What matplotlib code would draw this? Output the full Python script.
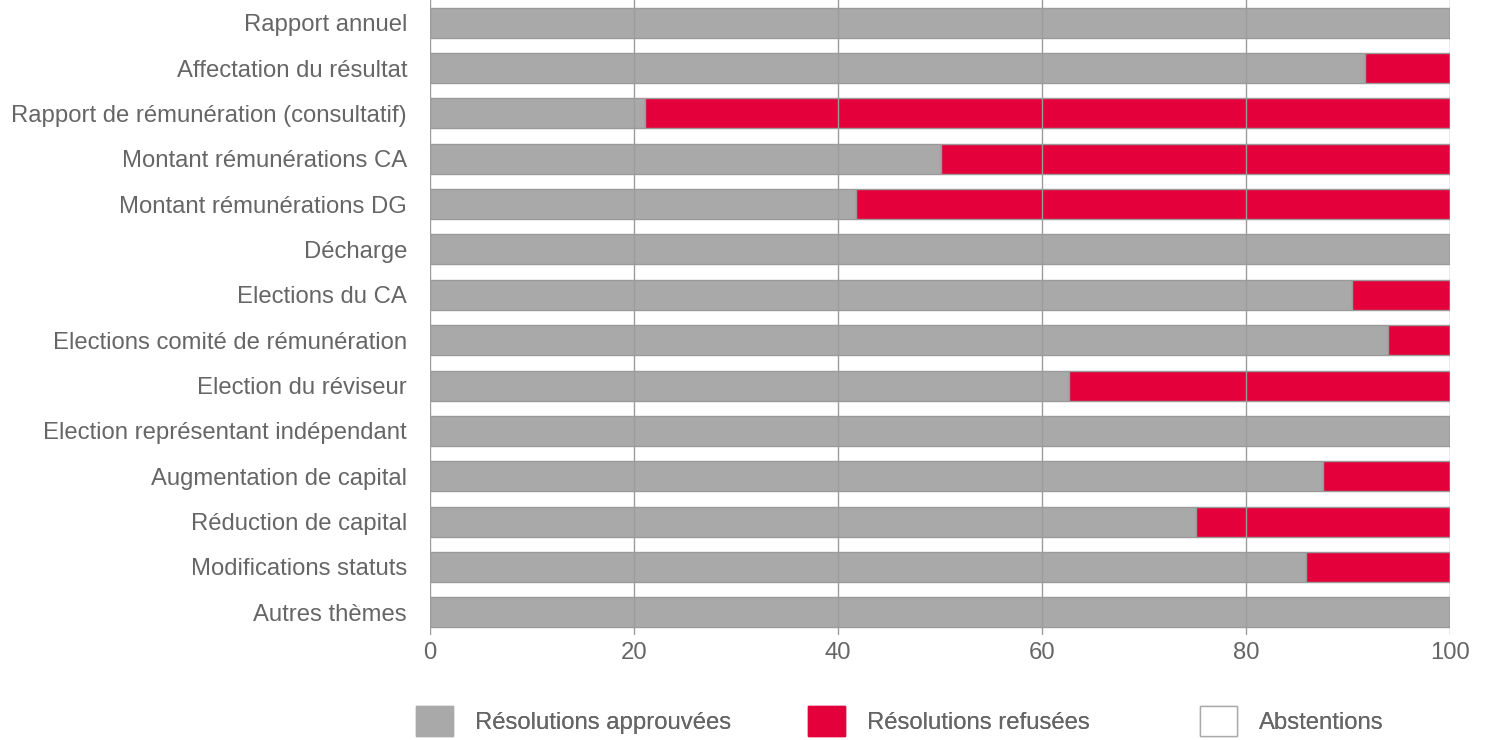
import matplotlib.pyplot as plt
from matplotlib.patches import Patch

# --- data ---
themes = [
    "Rapport annuel",
    "Affectation du résultat",
    "Rapport de rémunération (consultatif)",
    "Montant rémunérations CA",
    "Montant rémunérations DG",
    "Décharge",
    "Elections du CA",
    "Elections comité de rémunération",
    "Election du réviseur",
    "Election représentant indépendant",
    "Augmentation de capital",
    "Réduction de capital",
    "Modifications statuts",
    "Autres thèmes",
]
approved = [100, 91.7, 21.1, 50.1, 41.8, 100, 90.4, 93.9, 62.6, 100, 87.5, 75.1, 85.9, 100]
refused = [0, 8.3, 78.9, 49.9, 58.2, 0, 9.6, 6.1, 37.4, 0, 12.5, 24.9, 14.1, 0]
abstentions = [0] * len(themes)
xticks = [0, 20, 40, 60, 80, 100]

labels = ["Résolutions approuvées", "Résolutions refusées", "Abstentions"]

grey = "#a9a9a9"
red = "#e4003a"
edge = "#9a9a9a"
txt = "#666666"
fs = 17.2

plt.rcParams["font.family"] = ["Liberation Sans", "DejaVu Sans"]

fig = plt.figure(figsize=(14.87, 7.40), dpi=100)
ax = fig.add_axes([430 / 1487, 1 - 635 / 740, 1020 / 1487, 635 / 740])

y = list(range(len(themes)))
h = 0.66
ax.barh(y, approved, height=h, color=grey, edgecolor=edge, linewidth=1)
left2 = approved
ax.barh(y, refused, left=left2, height=h, color=red, edgecolor=edge, linewidth=1)
left3 = [a + r for a, r in zip(approved, refused)]
ax.barh(y, abstentions, left=left3, height=h, color="white", edgecolor=edge, linewidth=1)

ax.set_ylim(len(themes) - 0.5, -0.5)
ax.set_xlim(0, 100)
ax.set_yticks(y)
ax.set_yticklabels(themes)
ax.set_xticks(xticks)
ax.tick_params(axis="y", length=0, pad=16.5, labelsize=fs, labelcolor=txt)
ax.tick_params(axis="x", length=0, pad=5, labelsize=fs, labelcolor=txt)
for s in ax.spines.values():
    s.set_visible(False)
ax.set_axisbelow(False)
ax.grid(axis="x", color="#9c9c9c", linewidth=1)
ax.grid(axis="y", visible=False)

handles = [
    Patch(facecolor=grey, edgecolor=grey),
    Patch(facecolor=red, edgecolor=red),
    Patch(facecolor="white", edgecolor="#aaaaaa"),
]
xs = [416, 808, 1200]
for hd, lab, x0 in zip(handles, labels, xs):
    lg = fig.legend([hd], [lab], loc="center left",
                    bbox_to_anchor=(x0 / 1487, 1 - 721 / 740),
                    frameon=False, fontsize=fs, labelcolor=txt,
                    handlelength=1.55, handleheight=1.55, handletextpad=0.92,
                    borderpad=0, borderaxespad=0)
    fig.add_artist(lg)

fig.savefig("out.png", dpi=100)
